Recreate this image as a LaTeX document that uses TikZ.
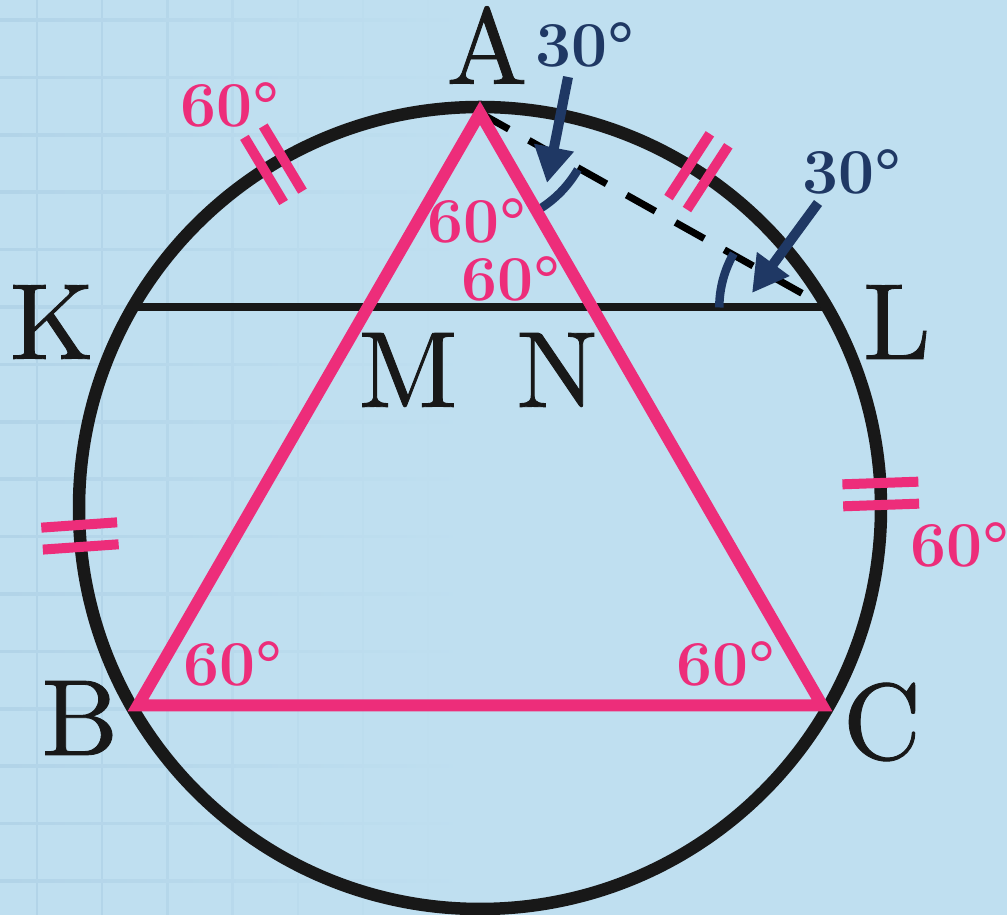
\documentclass[tikz,border=0pt]{standalone}
\usepackage{fontspec}
\usepackage{tikz}
\usetikzlibrary{arrows.meta, positioning}
\newfontfamily\ptfont{lmroman10-regular.otf}[FakeBold=0.8]
\definecolor{sky}{RGB}{191,223,240}
\definecolor{skyline}{RGB}{178,212,232}
\definecolor{rose}{RGB}{237,45,122}
\definecolor{navy}{RGB}{31,56,100}
\definecolor{ink}{RGB}{24,24,24}

\begin{document}
\begin{tikzpicture}[x=1pt, y=1pt,
  lbl/.style={font=\ptfont\fontsize{108}{108}\selectfont, text=ink, inner sep=0pt},
  deg/.style={font=\fontsize{64}{64}\selectfont\bfseries, text=rose, inner sep=0pt},
  degn/.style={deg, text=navy},
  tri/.style={draw=rose, line width=12pt, line join=miter},
  ang/.style={draw=navy, line width=8.5pt},
  notch/.style={draw=rose, line width=10pt},
  ar/.style={-{Triangle[length=36pt, width=38pt]}, navy, line width=10pt}]
\useasboundingbox (0,0) rectangle (1007,915);
\clip (0,0) rectangle (1007,915);
\fill[sky] (0,0) rectangle (1007,915);
\foreach \x/\p in {0/100,1/90,2/75,3/55,4/35,5/20,6/10}
  \draw[skyline!\p!sky, line width=2.5pt] (37+65.2*\x,0) -- (37+65.2*\x,915);
\foreach \y in {0,...,15}
  \shade[left color=skyline, right color=sky] (0,893.75-57.4*\y) rectangle (470,896.25-57.4*\y);
\coordinate (O) at (480,407);
\coordinate (A) at (480,802);
\coordinate (B) at (137.9,209.5);
\coordinate (C) at (822.1,209.5);
\coordinate (K) at (132.7,607.5);
\coordinate (L) at (827.3,607.5);
\draw[ink, line width=8pt] (K) -- (L);
\draw[black, line width=7pt, dash pattern=on 33pt off 23pt] (A) -- (L);
\draw[ink, line width=12.5pt] (O) circle[radius=401];
\foreach \a in {121,57,2,184} {
  \draw[notch] (O) ++(\a:363) ++(\a+90:11) -- ++(\a:76);
  \draw[notch] (O) ++(\a:363) ++(\a-90:11) -- ++(\a:76);
}
\draw[ang] (A) ++(-60:113) arc[start angle=-60, end angle=-30, radius=113];
\draw[ang] (L) ++(180:108) arc[start angle=180, end angle=150, radius=108];
\draw[tri] (A) -- (B) -- (C) -- cycle;
\node[lbl] (la) at (487,870) {A};
\node[lbl] (lk) at (52,593) {K};
\node[lbl] (ll) at (897,593) {L};
\node[lbl] (lm) at (408,545) {M};
\node[lbl] (ln) at (557,545) {N};
\node[lbl] (lb) at (80,197) {B};
\node[lbl] (lc) at (882,193) {C};
\node[deg] (dk) at (230,810) {60°};
\node[deg] (da1) at (477,694) {60°};
\node[deg] (da2) at (511,636) {60°};
\node[deg] (db) at (233,251) {60°};
\node[deg] (dc) at (726,251) {60°};
\node[deg, anchor=west] (dl) at (910,370) {60°};
\node[degn] (ta) at (585,870) {30°};
\node[degn] (tl) at (852,743) {30°};
\coordinate (ta0) at (568,838);
\coordinate (ta1) at (547,732);
\coordinate (tl0) at (818,712);
\coordinate (tl1) at (752,622);
\draw[ar] (ta0) -- (ta1);
\draw[ar] (tl0) -- (tl1);
\end{tikzpicture}
\end{document}
